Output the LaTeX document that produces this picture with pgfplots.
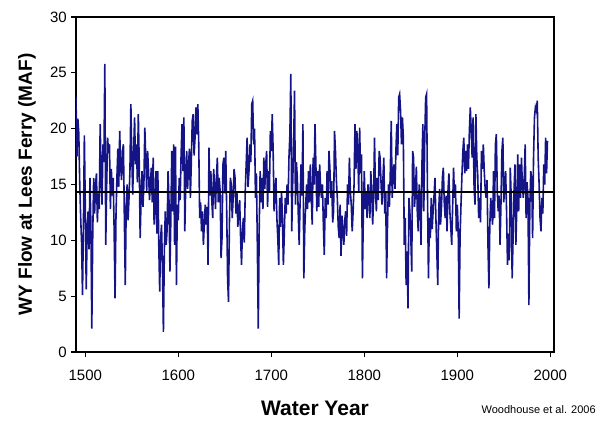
\documentclass[border=0pt]{standalone}
\usepackage{pgfplots}
\pgfplotsset{compat=1.18}
\usepackage{fontspec}
\setmainfont{Liberation Sans}
\definecolor{flowblue}{RGB}{20,20,135}

\begin{document}
\begin{tikzpicture}
\path[use as bounding box] (-76pt,-71pt) rectangle (530pt,352pt);
\begin{axis}[
    scale only axis,
    width=478pt, height=335pt,
    xmin=1490, xmax=2004,
    ymin=0, ymax=30,
    xtick={1500,1600,...,2000},
    ytick={0,5,...,30},
    /pgf/number format/assume math mode=true,
    /pgf/number format/1000 sep={},
    tick align=outside,
    tick pos=left,
    major tick length=5pt,
    line width=1.8pt,
    axis line style={line width=1.8pt},
    every tick/.style={black, line width=1.2pt},
    ticklabel style={font=\fontsize{15}{18}\selectfont},
    xticklabel style={yshift=-9pt},
    xlabel={Water Year},
    ylabel={WY Flow at Lees Ferry (MAF)},
    xlabel style={font=\fontsize{21}{24}\selectfont\bfseries, at={(rel axis cs:0.5,-0.167)}, anchor=center},
    ylabel style={font=\fontsize{19}{22}\selectfont\bfseries, at={(rel axis cs:-0.1025,0.5)}, anchor=center},
    clip mode=individual,
]
% reconstructed water-year flow
\addplot[flowblue, line width=1.6pt] coordinates {
(1490,22.8) (1491,17.5) (1492,20.9) (1493,19.6) (1494,15.2) (1495,12.1) (1496,9.8) (1497,5.1) (1498,11.5) (1499,19.4)
(1500,13.0) (1501,5.6) (1502,10.8) (1503,12.6) (1504,9.2) (1505,15.6) (1506,11.4) (1507,2.1) (1508,10.5) (1509,15.6)
(1510,12.4) (1511,14.9) (1512,16.0) (1513,11.6) (1514,14.2) (1515,12.8) (1516,20.4) (1517,16.0) (1518,13.2) (1519,18.6)
(1520,17.0) (1521,25.8) (1522,9.6) (1523,15.0) (1524,19.2) (1525,17.8) (1526,18.6) (1527,12.8) (1528,16.4) (1529,14.0)
(1530,15.6) (1531,11.0) (1532,4.8) (1533,12.2) (1534,15.6) (1535,18.2) (1536,14.8) (1537,19.8) (1538,16.6) (1539,15.4)
(1540,18.0) (1541,18.6) (1542,12.0) (1543,6.0) (1544,13.2) (1545,15.0) (1546,11.8) (1547,13.8) (1548,16.2) (1549,22.2)
(1550,17.5) (1551,14.1) (1552,18.0) (1553,21.0) (1554,16.8) (1555,18.6) (1556,15.2) (1557,21.3) (1558,17.0) (1559,10.2)
(1560,13.8) (1561,16.2) (1562,13.0) (1563,15.0) (1564,20.1) (1565,17.4) (1566,14.4) (1567,18.0) (1568,16.2) (1569,13.6)
(1570,15.0) (1571,16.5) (1572,13.4) (1573,17.4) (1574,11.4) (1575,12.8) (1576,16.2) (1577,10.6) (1578,16.2) (1579,9.6)
(1580,5.4) (1581,10.2) (1582,11.4) (1583,7.4) (1584,1.8) (1585,9.0) (1586,12.6) (1587,9.6) (1588,11.0) (1589,16.2)
(1590,13.5) (1591,7.2) (1592,12.0) (1593,18.0) (1594,12.6) (1595,18.6) (1596,9.6) (1597,18.4) (1598,6.0) (1599,13.2)
(1600,11.8) (1601,15.6) (1602,13.6) (1603,17.6) (1604,20.4) (1605,16.2) (1606,21.0) (1607,10.8) (1608,15.0) (1609,18.0)
(1610,14.6) (1611,16.8) (1612,18.2) (1613,13.8) (1614,17.0) (1615,20.7) (1616,21.3) (1617,17.6) (1618,19.2) (1619,21.9)
(1620,19.5) (1621,22.2) (1622,18.6) (1623,12.0) (1624,13.4) (1625,10.8) (1626,12.6) (1627,9.6) (1628,11.5) (1629,13.2)
(1630,11.4) (1631,13.0) (1632,7.8) (1633,18.3) (1634,14.0) (1635,16.2) (1636,13.6) (1637,12.0) (1638,16.4) (1639,15.0)
(1640,12.8) (1641,15.6) (1642,17.4) (1643,13.4) (1644,15.6) (1645,14.4) (1646,8.4) (1647,10.2) (1648,16.8) (1649,17.4)
(1650,14.2) (1651,18.0) (1652,13.0) (1653,6.6) (1654,4.5) (1655,11.6) (1656,15.6) (1657,15.0) (1658,12.0) (1659,13.8)
(1660,16.4) (1661,15.6) (1662,12.4) (1663,14.4) (1664,11.2) (1665,12.6) (1666,13.6) (1667,10.2) (1668,7.8) (1669,11.0)
(1670,12.0) (1671,9.8) (1672,14.4) (1673,16.8) (1674,19.2) (1675,14.8) (1676,16.2) (1677,18.6) (1678,17.0) (1679,22.2)
(1680,22.5) (1681,18.6) (1682,20.0) (1683,13.8) (1684,16.0) (1685,9.6) (1686,2.1) (1687,11.0) (1688,16.2) (1689,13.4)
(1690,15.6) (1691,12.8) (1692,17.4) (1693,14.6) (1694,16.8) (1695,18.0) (1696,13.0) (1697,16.2) (1698,14.4) (1699,19.8)
(1700,18.0) (1701,21.3) (1702,18.0) (1703,12.6) (1704,14.4) (1705,15.6) (1706,12.0) (1707,10.2) (1708,7.8) (1709,13.8)
(1710,11.2) (1711,14.4) (1712,12.0) (1713,7.8) (1714,10.6) (1715,13.8) (1716,12.4) (1717,15.0) (1718,13.2) (1719,17.4)
(1720,19.5) (1721,24.9) (1722,10.8) (1723,15.0) (1724,18.6) (1725,23.4) (1726,13.2) (1727,17.0) (1728,15.6) (1729,12.4)
(1730,9.6) (1731,13.6) (1732,16.8) (1733,14.0) (1734,20.4) (1735,6.6) (1736,11.0) (1737,13.2) (1738,15.0) (1739,12.8)
(1740,16.2) (1741,13.4) (1742,16.8) (1743,14.0) (1744,11.4) (1745,17.4) (1746,15.0) (1747,20.4) (1748,16.6) (1749,12.6)
(1750,16.2) (1751,13.0) (1752,16.8) (1753,14.8) (1754,13.8) (1755,15.0) (1756,11.4) (1757,8.7) (1758,13.8) (1759,12.0)
(1760,16.2) (1761,13.2) (1762,18.0) (1763,16.5) (1764,13.8) (1765,15.3) (1766,11.6) (1767,12.6) (1768,19.8) (1769,18.0)
(1770,15.4) (1771,13.8) (1772,11.2) (1773,10.2) (1774,13.2) (1775,8.6) (1776,12.2) (1777,10.8) (1778,9.6) (1779,11.8)
(1780,12.6) (1781,10.4) (1782,15.0) (1783,13.2) (1784,17.4) (1785,14.4) (1786,13.2) (1787,10.8) (1788,12.6) (1789,15.0)
(1790,20.4) (1791,16.4) (1792,19.8) (1793,18.0) (1794,14.4) (1795,20.1) (1796,16.0) (1797,17.7) (1798,6.6) (1799,12.4)
(1800,16.2) (1801,12.8) (1802,14.4) (1803,12.0) (1804,15.0) (1805,13.8) (1806,12.0) (1807,16.2) (1808,14.4) (1809,11.4)
(1810,13.8) (1811,19.2) (1812,14.4) (1813,12.6) (1814,15.6) (1815,13.6) (1816,18.0) (1817,17.4) (1818,15.2) (1819,13.2)
(1820,15.4) (1821,17.4) (1822,12.4) (1823,14.4) (1824,6.6) (1825,11.6) (1826,15.0) (1827,13.0) (1828,16.2) (1829,20.7)
(1830,13.8) (1831,16.0) (1832,16.8) (1833,14.6) (1834,18.0) (1835,20.4) (1836,17.6) (1837,22.8) (1838,23.1) (1839,21.6)
(1840,18.6) (1841,21.0) (1842,19.2) (1843,9.6) (1844,12.0) (1845,6.0) (1846,9.0) (1847,3.9) (1848,13.8) (1849,12.6)
(1850,10.4) (1851,7.2) (1852,18.0) (1853,17.4) (1854,13.0) (1855,14.4) (1856,16.6) (1857,12.6) (1858,10.8) (1859,15.0)
(1860,13.8) (1861,9.6) (1862,16.8) (1863,20.4) (1864,12.6) (1865,19.0) (1866,22.8) (1867,23.1) (1868,13.8) (1869,6.6)
(1870,12.0) (1871,10.2) (1872,13.8) (1873,11.0) (1874,12.6) (1875,14.0) (1876,15.6) (1877,12.0) (1878,9.0) (1879,6.0)
(1880,12.6) (1881,14.6) (1882,11.4) (1883,13.0) (1884,15.6) (1885,16.5) (1886,13.4) (1887,12.0) (1888,14.0) (1889,10.8)
(1890,14.4) (1891,16.0) (1892,12.6) (1893,11.2) (1894,9.6) (1895,13.0) (1896,16.5) (1897,13.8) (1898,15.0) (1899,10.8)
(1900,13.2) (1901,11.0) (1902,3.0) (1903,10.4) (1904,13.2) (1905,15.8) (1906,18.0) (1907,19.2) (1908,16.0) (1909,18.0)
(1910,16.2) (1911,18.6) (1912,16.4) (1913,19.8) (1914,21.9) (1915,19.8) (1916,17.4) (1917,21.0) (1918,15.0) (1919,13.2)
(1920,21.3) (1921,17.4) (1922,15.8) (1923,12.0) (1924,13.8) (1925,11.6) (1926,18.0) (1927,16.4) (1928,18.6) (1929,16.2)
(1930,14.6) (1931,13.8) (1932,15.4) (1933,9.6) (1934,5.7) (1935,11.4) (1936,13.8) (1937,12.4) (1938,11.4) (1939,16.2)
(1940,12.0) (1941,18.6) (1942,19.5) (1943,14.4) (1944,12.6) (1945,14.0) (1946,9.6) (1947,13.4) (1948,18.0) (1949,19.2)
(1950,13.4) (1951,15.0) (1952,16.2) (1953,12.6) (1954,7.8) (1955,10.6) (1956,8.2) (1957,16.5) (1958,13.8) (1959,6.6)
(1960,10.2) (1961,14.4) (1962,16.8) (1963,9.6) (1964,12.9) (1965,17.7) (1966,12.6) (1967,16.8) (1968,13.8) (1969,17.4)
(1970,15.0) (1971,13.8) (1972,15.6) (1973,18.6) (1974,12.0) (1975,15.2) (1976,13.8) (1977,4.2) (1978,13.0) (1979,16.2)
(1980,15.6) (1981,10.2) (1982,17.4) (1983,21.0) (1984,21.9) (1985,21.6) (1986,22.5) (1987,17.4) (1988,15.0) (1989,12.0)
(1990,10.8) (1991,13.8) (1992,12.4) (1993,16.8) (1994,15.0) (1995,19.2) (1996,16.0) (1997,18.9)
};
% long-term mean
\addplot[black, line width=2pt] coordinates {(1490,14.3) (2004,14.3)};
\node[anchor=east, font=\fontsize{11}{13}\selectfont] at (rel axis cs:1.096,-0.173) {Woodhouse et al. 2006};
\end{axis}
\end{tikzpicture}
\end{document}
